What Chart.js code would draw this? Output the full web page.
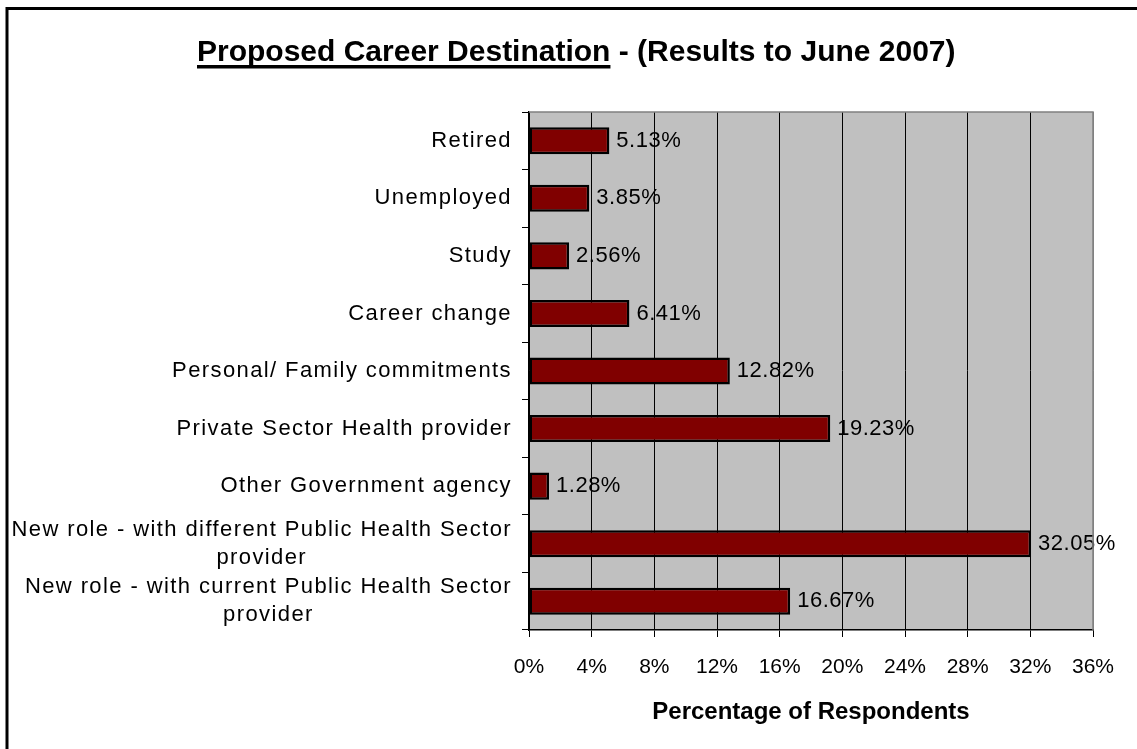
<!DOCTYPE html>
<html>
<head>
<meta charset="utf-8">
<script src="https://cdn.jsdelivr.net/npm/chart.js@4.4.1/dist/chart.umd.min.js"></script>
<style>
    html, body { margin: 0; padding: 0; background: #fff; overflow: hidden; }
    #wrap { position: relative; width: 1137px; height: 749px; overflow: hidden; }
    canvas { position: absolute; left: 0; top: 0; }
</style>
</head>
<body>
<div id="wrap">
    <canvas id="chart" width="1137" height="749"></canvas>
</div>
<script>
// --------- Datos ---------
const CATEGORIES = [
    "Retired",
    "Unemployed",
    "Study",
    "Career change",
    "Personal/ Family commitments",
    "Private Sector Health provider",
    "Other Government agency",
    ["New role - with different Public Health Sector", "provider"],
    ["New role - with current Public Health Sector", "provider"],
];
const PERCENTAGES = [5.13, 3.85, 2.56, 6.41, 12.82, 19.23, 1.28, 32.05, 16.67];
const X_MIN = 0;
const X_MAX = 36;
const X_STEP = 4;

const FONT = "'Liberation Sans', Arial, sans-serif";

// Marco exterior (sólo izquierda y arriba quedan dentro de la vista)
const outerFrame = {
    id: "outerFrame",
    afterDraw(chart) {
        const ctx = chart.ctx;
        ctx.save();
        ctx.strokeStyle = "#000";
        ctx.lineWidth = 3;
        ctx.beginPath();
        ctx.moveTo(7, chart.height + 5);
        ctx.lineTo(7, 8.5);
        ctx.lineTo(chart.width + 5, 8.5);
        ctx.stroke();
        ctx.restore();
    },
};

// Fondo gris del área de trazado + borde superior
const plotBackground = {
    id: "plotBackground",
    beforeDraw(chart) {
        const { ctx, chartArea: a } = chart;
        ctx.save();
        ctx.fillStyle = "#C0C0C0";
        ctx.fillRect(a.left, a.top, a.right - a.left, a.bottom - a.top);
        ctx.restore();
    },
    afterDraw(chart) {
        const { ctx, chartArea: a } = chart;
        ctx.save();
        ctx.strokeStyle = "#808080";
        ctx.lineWidth = 1.5;
        ctx.beginPath();
        ctx.moveTo(a.left, a.top);
        ctx.lineTo(a.right, a.top);
        ctx.lineTo(a.right, a.bottom);
        ctx.stroke();
        ctx.restore();
    },
};

// Título con subrayado parcial
const titlePlugin = {
    id: "titlePlugin",
    afterDraw(chart) {
        const ctx = chart.ctx;
        const part1 = "Proposed Career Destination";
        const part2 = " - (Results to June 2007)";
        ctx.save();
        ctx.font = `bold 30px ${FONT}`;
        ctx.fillStyle = "#000";
        ctx.textBaseline = "alphabetic";
        ctx.textAlign = "left";
        const x = 197, y = 61;
        const w1 = ctx.measureText(part1).width;
        ctx.fillText(part1, x, y);
        ctx.fillText(part2, x + w1, y);
        ctx.fillRect(x, 65, w1, 3.5);
        ctx.restore();
    },
};

// Etiquetas de categoría (multilínea centradas)
const categoryLabels = {
    id: "categoryLabels",
    afterDraw(chart) {
        const ctx = chart.ctx;
        const yScale = chart.scales.y;
        const right = yScale.right - 17;
        ctx.save();
        ctx.font = `22px ${FONT}`;
        ctx.fillStyle = "#000";
        ctx.textBaseline = "middle";
        ctx.textAlign = "center";
        if ("letterSpacing" in ctx) ctx.letterSpacing = "1.4px";
        CATEGORIES.forEach((lab, i) => {
            const y = yScale.getPixelForTick(i);
            const lines = Array.isArray(lab) ? lab : [lab];
            const w = Math.max(...lines.map((l) => ctx.measureText(l).width));
            const cx = right - w / 2;
            const lh = 28;
            const y0 = y - ((lines.length - 1) * lh) / 2;
            lines.forEach((l, j) => ctx.fillText(l, cx, y0 + j * lh));
        });
        ctx.restore();
    },
};

// Valores al final de cada barra
const valueLabels = {
    id: "valueLabels",
    afterDatasetsDraw(chart) {
        const ctx = chart.ctx;
        const meta = chart.getDatasetMeta(0);
        ctx.save();
        ctx.font = `22px ${FONT}`;
        ctx.fillStyle = "#000";
        ctx.textBaseline = "middle";
        ctx.textAlign = "left";
        if ("letterSpacing" in ctx) ctx.letterSpacing = "0.5px";
        meta.data.forEach((bar, i) => {
            ctx.fillText(PERCENTAGES[i].toFixed(2) + "%", bar.x + 7, bar.y);
        });
        ctx.restore();
    },
};

new Chart(document.getElementById("chart"), {
    type: "bar",
    data: {
        labels: CATEGORIES,
        datasets: [
            {
                data: PERCENTAGES,
                backgroundColor: "#800000",
                borderColor: "#000",
                borderWidth: 2.5,
                borderSkipped: false,
                barPercentage: 0.47,
                categoryPercentage: 1,
            },
        ],
    },
    options: {
        indexAxis: "y",
        responsive: false,
        devicePixelRatio: 1,
        animation: false,
        layout: { padding: { top: 112, right: 44, bottom: 0, left: 0 } },
        plugins: {
            legend: { display: false },
            tooltip: { enabled: false },
            title: { display: false },
        },
        scales: {
            x: {
                type: "linear",
                min: X_MIN,
                max: X_MAX,
                ticks: {
                    stepSize: X_STEP,
                    color: "#000",
                    font: { family: FONT, size: 21 },
                    padding: 18,
                    maxRotation: 0,
                    callback: (v) => v + "%",
                },
                grid: {
                    color: (c) => (c.tick && c.tick.value === X_MAX ? "#808080" : "#000"),
                    lineWidth: 1,
                    tickLength: 7,
                    tickColor: "#000",
                },
                border: { color: "#000", width: 1.5 },
                title: {
                    display: true,
                    text: "Percentage of Respondents",
                    color: "#000",
                    font: { family: FONT, size: 24, weight: "bold" },
                    padding: { top: 0, bottom: 22 },
                },
                afterFit(scale) {
                    scale.height = 119;
                    scale.paddingLeft = 0;
                    scale.paddingRight = 0;
                },
            },
            y: {
                type: "category",
                ticks: { display: false },
                grid: {
                    drawOnChartArea: false,
                    drawTicks: true,
                    tickLength: 7,
                    color: "#000",
                    offset: true,
                },
                border: { color: "#000", width: 1.5 },
                afterFit(scale) {
                    scale.width = 529;
                    scale.paddingTop = 0;
                    scale.paddingBottom = 0;
                },
            },
        },
    },
    plugins: [plotBackground, titlePlugin, categoryLabels, valueLabels, outerFrame],
});
</script>
</body>
</html>
